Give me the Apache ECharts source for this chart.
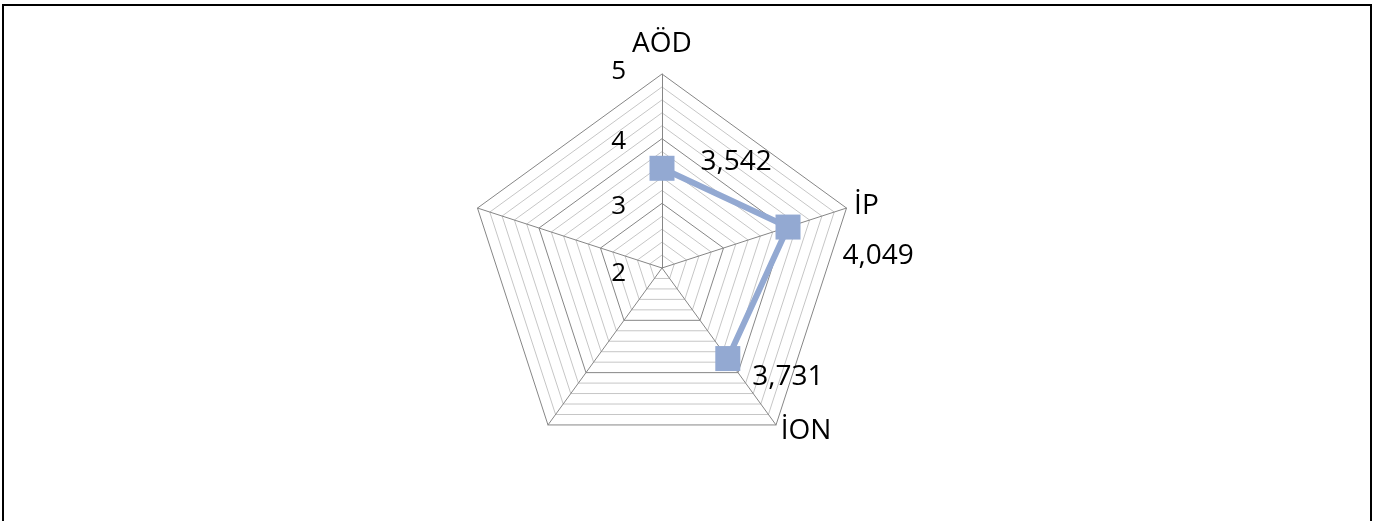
<!DOCTYPE html>
<html>
<head>
<meta charset="utf-8">
<script src="https://cdn.jsdelivr.net/npm/echarts@6/dist/echarts.min.js"></script>
<style>
  html, body { margin: 0; padding: 0; background: #fff; }
  #chart { width: 1379px; height: 521px; }
</style>
</head>
<body>
<div id="chart"></div>
<script>
// Dimensions of the radar (clockwise from the top) and their scores
const categories = ['AÖD', 'İP', 'İON', '', ''];
const scores = [3.542, 4.049, 3.731, null, null];

// Value scale shared by every spoke
const scaleMin = 2;
const scaleMax = 5;
const scaleTicks = [2, 3, 4, 5];

const CENTER = [662, 268];
const RADIUS = 194;
const FONT = 'Open Sans';
const SERIES_COLOR = '#93A9D2';
const MAJOR_LINE = '#868686';
const MINOR_LINE = '#C6C6C6';

// Where each value label sits relative to its marker
const labelPlacement = [
  { distance: 26, offset: [0, -6] },
  { distance: 42, offset: [0, 29] },
  { distance: 12, offset: [0, 18] },
  null,
  null
];

// Small vertical nudges for the scale numbers on the top spoke
const tickNudge = { 5: [0, 0, 4, 0], 4: [6, 0, 0, 0], 3: [6, 0, 0, 0], 2: [12, 0, 0, 0] };

const formatValue = v => v.toFixed(3).replace('.', ',');

// Radar indicators run counter-clockwise, so keep the first and reverse the rest
const radarOrder = [categories[0]].concat(categories.slice(1).reverse());
const indicators = radarOrder.map((name, i) => {
  const ind = { name: name, min: scaleMin, max: scaleMax };
  if (i === 0) ind.axisLabel = { show: true };
  return ind;
});

const seriesData = scores.map((v, i) => {
  if (v == null) return null;
  return { value: v, label: labelPlacement[i] };
});

const tickRich = {};
scaleTicks.forEach(t => {
  tickRich['t' + t] = { color: '#000', fontFamily: FONT, fontSize: 26, padding: tickNudge[t] };
});

const chart = echarts.init(document.getElementById('chart'), null, { renderer: 'canvas' });

chart.setOption({
  animation: false,
  graphic: [{
    type: 'rect',
    silent: true,
    shape: { x: 3, y: 5, width: 1368, height: 600 },
    style: { fill: 'none', stroke: '#000', lineWidth: 2 }
  }],
  radar: {
    center: CENTER,
    radius: RADIUS,
    startAngle: 90,
    shape: 'polygon',
    splitNumber: 15,
    indicator: indicators,
    nameGap: 8,
    axisName: {
      color: '#000',
      fontFamily: FONT,
      fontSize: 28,
      formatter: name => name === categories[0] ? '{top|' + name + '}' : name,
      rich: {
        top: { color: '#000', fontFamily: FONT, fontSize: 28, padding: [0, 0, 8, 0] }
      }
    },
    axisLine: { lineStyle: { color: MAJOR_LINE, width: 1 } },
    splitLine: {
      lineStyle: {
        color: [MAJOR_LINE, MINOR_LINE, MINOR_LINE, MINOR_LINE, MINOR_LINE],
        width: 1
      }
    },
    splitArea: { show: false },
    axisTick: { show: false },
    axisLabel: {
      show: false,
      color: '#000',
      fontFamily: FONT,
      fontSize: 26,
      margin: 36,
      formatter: v => {
        const r = Math.round(v * 1000) / 1000;
        return scaleTicks.indexOf(r) >= 0 ? '{t' + r + '|' + r + '}' : '';
      },
      rich: tickRich
    }
  },
  polar: { center: CENTER, radius: RADIUS },
  angleAxis: {
    type: 'category',
    data: categories,
    startAngle: 90,
    clockwise: true,
    boundaryGap: false,
    show: false
  },
  radiusAxis: { min: scaleMin, max: scaleMax, show: false },
  series: [{
    type: 'line',
    coordinateSystem: 'polar',
    data: seriesData,
    symbol: 'rect',
    symbolSize: 25,
    lineStyle: { color: SERIES_COLOR, width: 6 },
    itemStyle: { color: SERIES_COLOR },
    emphasis: { disabled: true },
    label: {
      show: true,
      position: 'right',
      color: '#000',
      fontFamily: FONT,
      fontSize: 28,
      formatter: p => formatValue(p.value)
    }
  }]
});
</script>
</body>
</html>
